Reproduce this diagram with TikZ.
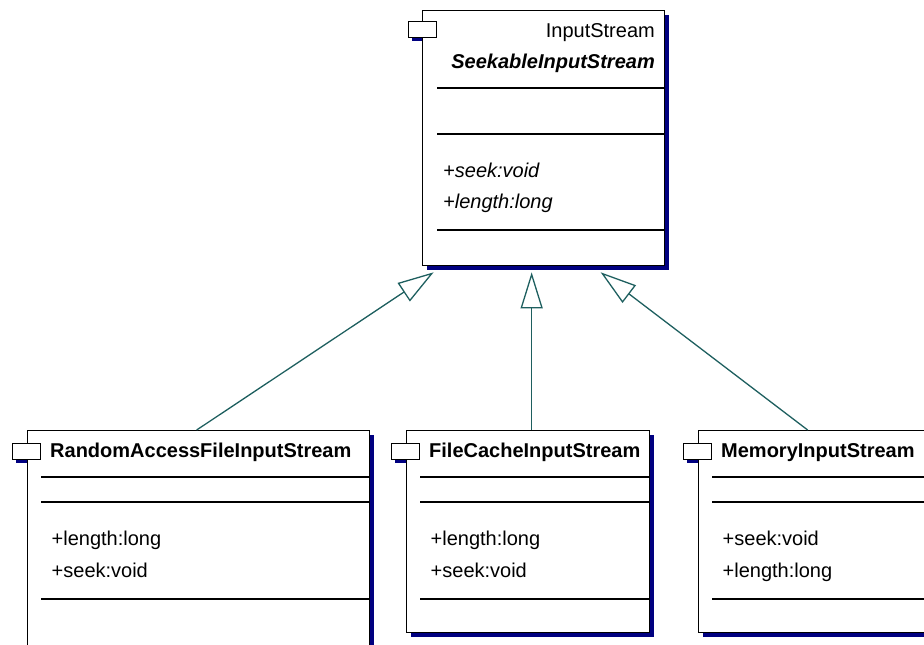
\documentclass[tikz,border=0pt]{standalone}
\usepackage{fontspec}
\setmainfont{Liberation Sans}
\usetikzlibrary{calc, arrows.meta, shadows}
\definecolor{shadowblue}{RGB}{0,0,128}
\definecolor{linkteal}{RGB}{30,95,95}

\begin{document}
\begin{tikzpicture}[x=1pt, y=-1pt,
        classbox/.style={draw, fill=white, line width=1.3pt, inner sep=0pt, anchor=north west,
            drop shadow={shadow xshift=4pt, shadow yshift=-4pt, fill=shadowblue, opacity=1}},
        classtab/.style={draw, fill=white, line width=1.3pt, inner sep=0pt, anchor=north west,
            minimum width=28pt, minimum height=16pt},
        rule/.style={line width=1.2pt},
        classname/.style={inner sep=0pt, anchor=base west, font=\fontsize{20}{24}\selectfont\bfseries},
        member/.style={inner sep=0pt, anchor=base west, font=\fontsize{20}{24}\selectfont},
        extends/.style={draw=linkteal, line width=1.3pt,
            arrows={-{Triangle[open, length=36pt, width=22pt]}}}]
        \useasboundingbox (0,0) rectangle (924,645);
        \clip (0,0) rectangle (924,645);
        \fill [shadowblue] (412,25) rectangle ++(28,16);
        \node [classbox, minimum width=242pt, minimum height=255pt] (seekable) at (422,10) {};
        \node [classtab] (seekable-tab) at (408,21) {};
        \node [member, anchor=base east] (seekable-stereo) at (655,37) {InputStream};
        \node [classname, anchor=base east, font=\fontsize{20}{24}\selectfont\bfseries\itshape]
            (seekable-name) at (655,68) {SeekableInputStream};
        \foreach \y in {88, 134, 230}
            \draw [rule] (seekable-tab.east |- 0,\y) -- (seekable.east |- 0,\y);
        \node [member, font=\fontsize{20}{24}\selectfont\itshape] (seekable-op1) at (443,177) {+seek:void};
        \node [member, font=\fontsize{20}{24}\selectfont\itshape] (seekable-op2) at (443,208) {+length:long};
        \foreach \nm/\x/\w/\h/\cls/\opa/\opb in {
                randomaccess/27/342/240/RandomAccessFileInputStream/length:long/seek:void,
                filecache/406/243/202/FileCacheInputStream/length:long/seek:void,
                memory/698/243/202/MemoryInputStream/seek:void/length:long} {
            \fill [shadowblue] (\x-11,447) rectangle ++(28,16);
            \node [classbox, minimum width=\w pt, minimum height=\h pt] (\nm) at (\x,430) {};
            \node [classtab] (\nm-tab) at (\x-15,443) {};
            \node [classname] (\nm-name) at (\x+23,457) {\cls};
            \foreach \y in {477, 502, 599}
                \draw [rule] (\nm-tab.east |- 0,\y) -- (\nm.east |- 0,\y);
            \node [member] (\nm-op1) at (\x+24.5,545) {+\opa};
            \node [member] (\nm-op2) at (\x+24.5,577) {+\opb};
        }
        \path [extends] ([xshift=-2pt]randomaccess.north) -- ([shift={(-110,6)}]seekable.south);
        \path [extends] ([xshift=3.5pt]filecache.north) -- ([shift={(-12,6)}]seekable.south);
        \path [extends] ([xshift=-12.5pt]memory.north) -- ([shift={(57,6)}]seekable.south);
    \end{tikzpicture}
\end{document}
